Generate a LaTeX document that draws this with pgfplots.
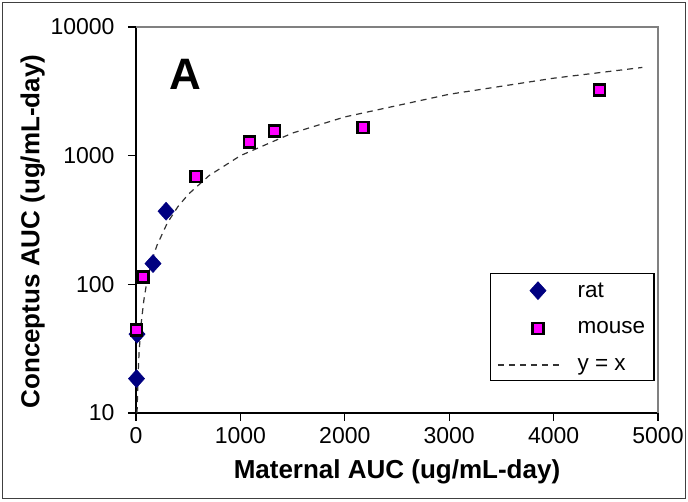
\documentclass[border=0pt]{standalone}
\usepackage{pgfplots}
\pgfplotsset{compat=1.18}
\usepackage{fontspec}
\setmainfont{Liberation Sans}
\definecolor{ratblue}{RGB}{0,0,128}
\definecolor{mousepink}{RGB}{255,0,255}
\definecolor{framegray}{RGB}{128,128,128}
\pgfplotsset{
  markleg/.style={legend image code/.code={\draw[##1] plot coordinates {(40pt,0pt)};}},
  lineleg/.style={legend image code/.code={\draw[##1] (0pt,0pt) -- (63pt,0pt);}},
}
\begin{document}
\begin{tikzpicture}[x=1pt,y=1pt]
\useasboundingbox (0,0) rectangle (688,501);
\draw[line width=1.5pt,black!75] (2.5,2.5) rectangle (685.5,498.5);
\begin{axis}[at={(136pt,88pt)},anchor=south west,
  scale only axis,width=522pt,height=386pt,
  ymode=log,xmin=0,xmax=5000,ymin=10,ymax=10000,
  axis x line*=bottom,axis y line*=left,
  axis line style={line width=1.3pt,black,-},
  tick style={line width=1.3pt,black},
  tick align=outside,major tick length=8pt,
  yminorticks=false,
  xtick={0,1000,2000,3000,4000,5000},
  xticklabels={0,1000,2000,3000,4000,5000},
  ytick={10,100,1000,10000},
  yticklabels={10,100,1000,10000},
  ticklabel style={font=\fontsize{23}{23}\selectfont},
  yticklabel style={xshift=-10pt},
  xticklabel style={yshift=-3pt},
  xlabel={Maternal AUC (ug/mL-day)},
  ylabel={Conceptus AUC (ug/mL-day)},
  label style={font=\bfseries\fontsize{26}{26}\selectfont},
  xlabel style={at={(rel axis cs:0.5,-0.153)},anchor=center},
  ylabel style={at={(rel axis cs:-0.198,0.47)},anchor=center},
  clip=false,
  legend cell align=left,
  legend style={at={(rel axis cs:0.994,0.363)},anchor=north east,
    draw=black,line width=1.5pt,fill=white,
    font=\fontsize{22.5}{22.5}\selectfont,row sep=19pt,inner sep=7pt,
    /tikz/every odd column/.style={column sep=14pt}},
]
\draw[framegray,line width=1.3pt] (rel axis cs:0,1) -- (rel axis cs:1,1) -- (rel axis cs:1,0);
% y = x reference line
\addplot[forget plot,black!80,line width=1.2pt,dash pattern=on 6pt off 5pt] coordinates {
(10,10) (20,20) (30,30) (50,50) (75,75) (100,100) (150,150) (200,200) (300,300)
(400,400) (500,500) (700,700) (1000,1000) (1500,1500) (2000,2000) (3000,3000)
(4000,4000) (4850,4850)};
\addplot[only marks,mark=diamond*,mark size=9pt,
  mark options={fill=ratblue,draw=ratblue,line width=0.5pt,xscale=1.2},markleg]
  coordinates {(5,18.5) (10,41) (163,145) (288,370)};
\addlegendentry{rat}
\addplot[only marks,mark=square*,mark size=5.5pt,
  mark options={fill=mousepink,draw=black,line width=2.5pt},markleg]
  coordinates {(5,44) (67,114) (577,690) (1087,1275) (1327,1550) (2173,1660) (4442,3240)};
\addlegendentry{mouse}
\addlegendimage{black!80,line width=1.2pt,dash pattern=on 6pt off 5pt,lineleg}
\addlegendentry{y = x}
\node[font=\bfseries\fontsize{44}{44}\selectfont] at (rel axis cs:0.094,0.878) {A};
\end{axis}
\end{tikzpicture}
\end{document}
